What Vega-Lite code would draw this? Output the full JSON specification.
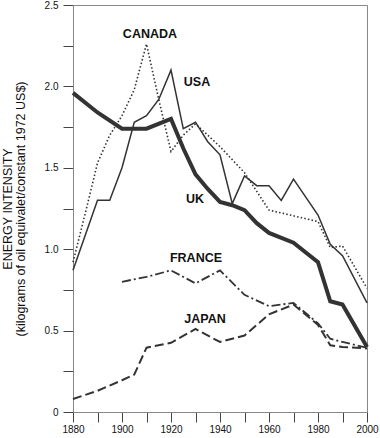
{
  "$schema": "https://vega.github.io/schema/vega-lite/v6.json",
  "width": 294,
  "height": 407,
  "autosize": {"type": "none"},
  "padding": {"left": 73, "top": 5, "right": 13, "bottom": 26},
  "config": {
    "view": {"stroke": "#888", "strokeWidth": 1},
    "font": "Liberation Sans",
    "axis": {
      "grid": false,
      "domainColor": "#888",
      "tickColor": "#444",
      "tickSize": 10,
      "labelFontSize": 10,
      "labelColor": "#111",
      "labelOverlap": false,
      "labelBound": false,
      "labelFlush": false
    }
  },
  "data": {
    "values": [
      {"country": "UK", "year": 1880, "value": 1.96},
      {"country": "UK", "year": 1890, "value": 1.84},
      {"country": "UK", "year": 1900, "value": 1.74},
      {"country": "UK", "year": 1910, "value": 1.74},
      {"country": "UK", "year": 1920, "value": 1.80},
      {"country": "UK", "year": 1925, "value": 1.62},
      {"country": "UK", "year": 1930, "value": 1.46},
      {"country": "UK", "year": 1935, "value": 1.37},
      {"country": "UK", "year": 1940, "value": 1.29},
      {"country": "UK", "year": 1945, "value": 1.27},
      {"country": "UK", "year": 1950, "value": 1.24},
      {"country": "UK", "year": 1955, "value": 1.16},
      {"country": "UK", "year": 1960, "value": 1.10},
      {"country": "UK", "year": 1970, "value": 1.04},
      {"country": "UK", "year": 1980, "value": 0.92},
      {"country": "UK", "year": 1985, "value": 0.68},
      {"country": "UK", "year": 1990, "value": 0.66},
      {"country": "UK", "year": 2000, "value": 0.40},
      {"country": "USA", "year": 1880, "value": 0.87},
      {"country": "USA", "year": 1890, "value": 1.30},
      {"country": "USA", "year": 1895, "value": 1.30},
      {"country": "USA", "year": 1900, "value": 1.50},
      {"country": "USA", "year": 1905, "value": 1.78},
      {"country": "USA", "year": 1910, "value": 1.82},
      {"country": "USA", "year": 1915, "value": 1.92},
      {"country": "USA", "year": 1920, "value": 2.10},
      {"country": "USA", "year": 1925, "value": 1.74},
      {"country": "USA", "year": 1930, "value": 1.78},
      {"country": "USA", "year": 1935, "value": 1.66},
      {"country": "USA", "year": 1940, "value": 1.58},
      {"country": "USA", "year": 1945, "value": 1.28},
      {"country": "USA", "year": 1950, "value": 1.45},
      {"country": "USA", "year": 1955, "value": 1.39},
      {"country": "USA", "year": 1960, "value": 1.39},
      {"country": "USA", "year": 1965, "value": 1.30},
      {"country": "USA", "year": 1970, "value": 1.43},
      {"country": "USA", "year": 1980, "value": 1.21},
      {"country": "USA", "year": 1985, "value": 1.03},
      {"country": "USA", "year": 1990, "value": 0.96},
      {"country": "USA", "year": 2000, "value": 0.67},
      {"country": "CANADA", "year": 1880, "value": 0.92},
      {"country": "CANADA", "year": 1885, "value": 1.22},
      {"country": "CANADA", "year": 1890, "value": 1.53},
      {"country": "CANADA", "year": 1895, "value": 1.70},
      {"country": "CANADA", "year": 1900, "value": 1.82},
      {"country": "CANADA", "year": 1905, "value": 1.98},
      {"country": "CANADA", "year": 1910, "value": 2.26},
      {"country": "CANADA", "year": 1915, "value": 1.92},
      {"country": "CANADA", "year": 1920, "value": 1.60},
      {"country": "CANADA", "year": 1925, "value": 1.70},
      {"country": "CANADA", "year": 1930, "value": 1.77},
      {"country": "CANADA", "year": 1940, "value": 1.63},
      {"country": "CANADA", "year": 1950, "value": 1.47},
      {"country": "CANADA", "year": 1960, "value": 1.24},
      {"country": "CANADA", "year": 1980, "value": 1.17},
      {"country": "CANADA", "year": 1985, "value": 1.01},
      {"country": "CANADA", "year": 1990, "value": 1.02},
      {"country": "CANADA", "year": 2000, "value": 0.76},
      {"country": "FRANCE", "year": 1900, "value": 0.80},
      {"country": "FRANCE", "year": 1910, "value": 0.83},
      {"country": "FRANCE", "year": 1920, "value": 0.87},
      {"country": "FRANCE", "year": 1930, "value": 0.79},
      {"country": "FRANCE", "year": 1940, "value": 0.87},
      {"country": "FRANCE", "year": 1950, "value": 0.72},
      {"country": "FRANCE", "year": 1960, "value": 0.65},
      {"country": "FRANCE", "year": 1970, "value": 0.67},
      {"country": "FRANCE", "year": 1980, "value": 0.545},
      {"country": "FRANCE", "year": 1985, "value": 0.45},
      {"country": "FRANCE", "year": 1990, "value": 0.43},
      {"country": "FRANCE", "year": 2000, "value": 0.395},
      {"country": "JAPAN", "year": 1880, "value": 0.08},
      {"country": "JAPAN", "year": 1890, "value": 0.13},
      {"country": "JAPAN", "year": 1900, "value": 0.195},
      {"country": "JAPAN", "year": 1905, "value": 0.23},
      {"country": "JAPAN", "year": 1910, "value": 0.395},
      {"country": "JAPAN", "year": 1920, "value": 0.425},
      {"country": "JAPAN", "year": 1930, "value": 0.51},
      {"country": "JAPAN", "year": 1940, "value": 0.43},
      {"country": "JAPAN", "year": 1950, "value": 0.47},
      {"country": "JAPAN", "year": 1960, "value": 0.60},
      {"country": "JAPAN", "year": 1970, "value": 0.66},
      {"country": "JAPAN", "year": 1980, "value": 0.535},
      {"country": "JAPAN", "year": 1985, "value": 0.41},
      {"country": "JAPAN", "year": 1990, "value": 0.40},
      {"country": "JAPAN", "year": 2000, "value": 0.39}
    ]
  },
  "encoding": {
    "x": {
      "field": "year",
      "type": "quantitative",
      "scale": {"domain": [1880, 2000], "nice": false, "zero": false},
      "axis": {
        "title": null,
        "values": [1880, 1890, 1900, 1910, 1920, 1930, 1940, 1950, 1960, 1970, 1980, 1990, 2000],
        "format": "d",
        "labelExpr": "datum.value % 20 == 0 ? datum.label : ''",
        "labelPadding": 2
      }
    },
    "y": {
      "field": "value",
      "type": "quantitative",
      "scale": {"domain": [0, 2.5], "nice": false},
      "axis": {
        "values": [0, 0.25, 0.5, 0.75, 1, 1.25, 1.5, 1.75, 2, 2.25, 2.5],
        "labelExpr": "datum.value == 0 ? '0' : (round(datum.value * 4) % 2 == 0 ? format(datum.value, '.1f') : '')",
        "labelPadding": 5,
        "title": ["ENERGY INTENSITY", "(kilograms of oil equivalet/constant 1972 US$)"],
        "titleFontSize": 12.5,
        "titleFontWeight": "normal",
        "titleColor": "#111",
        "titleAngle": -90,
        "titleAlign": "center",
        "titleBaseline": "top",
        "titleLineHeight": 13,
        "titleX": -72,
        "titleY": 203.5
      }
    }
  },
  "layer": [
    {
      "transform": [{"filter": "datum.country == 'CANADA'"}],
      "mark": {"type": "line", "color": "#333", "strokeWidth": 1.6, "strokeDash": [1.5, 2.2]}
    },
    {
      "transform": [{"filter": "datum.country == 'USA'"}],
      "mark": {"type": "line", "color": "#333", "strokeWidth": 1.5}
    },
    {
      "transform": [{"filter": "datum.country == 'UK'"}],
      "mark": {"type": "line", "color": "#333", "strokeWidth": 4}
    },
    {
      "transform": [{"filter": "datum.country == 'FRANCE'"}],
      "mark": {"type": "line", "color": "#333", "strokeWidth": 1.8, "strokeDash": [9, 3, 2, 3]}
    },
    {
      "transform": [{"filter": "datum.country == 'JAPAN'"}],
      "mark": {"type": "line", "color": "#333", "strokeWidth": 2, "strokeDash": [9, 4]}
    },
    {
      "data": {
        "values": [
          {"label": "CANADA", "year": 1911.4, "value": 2.32},
          {"label": "USA", "year": 1930.6, "value": 2.03},
          {"label": "UK", "year": 1929.8, "value": 1.31},
          {"label": "FRANCE", "year": 1930.2, "value": 0.945},
          {"label": "JAPAN", "year": 1933.9, "value": 0.574}
        ]
      },
      "mark": {"type": "text", "fontWeight": "bold", "fontSize": 12.5, "color": "#111", "align": "center", "baseline": "middle"},
      "encoding": {"text": {"field": "label"}}
    }
  ]
}
